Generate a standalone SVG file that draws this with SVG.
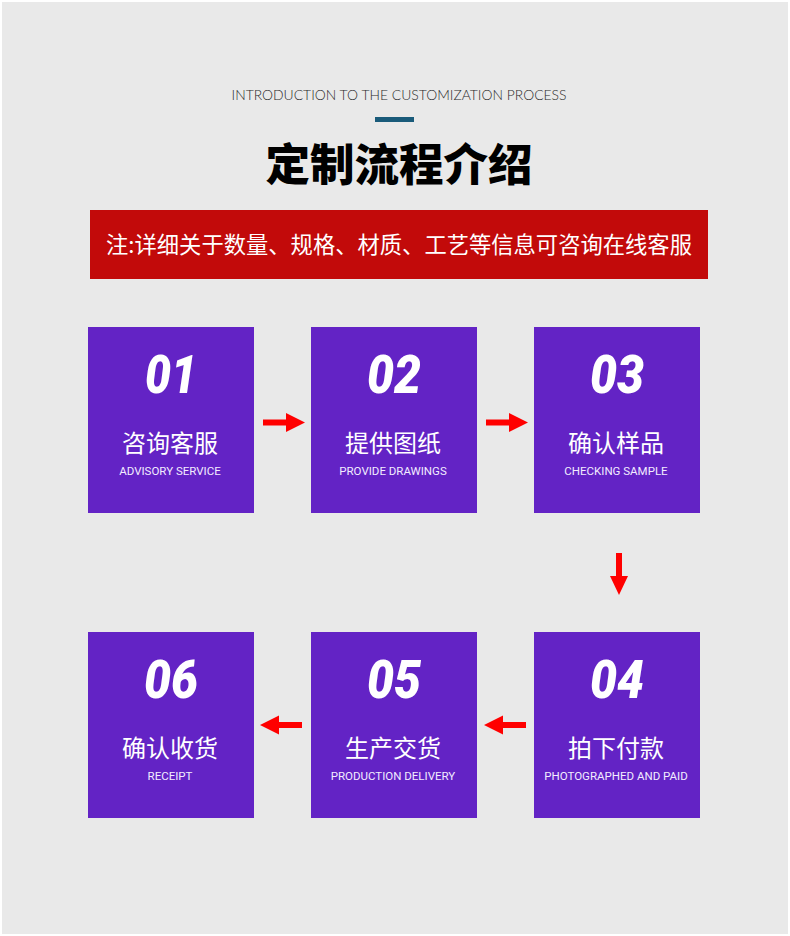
<svg xmlns="http://www.w3.org/2000/svg" width="790" height="936" viewBox="0 0 790 936">
<style>
.box{fill:#6323c5}
.num{font-family:Roboto,"Liberation Sans",sans-serif;font-weight:900;font-style:italic;font-size:54px;fill:#fff;text-anchor:middle}
.cn{font-family:"Noto Sans CJK SC",sans-serif;font-size:24px;fill:#fff;text-anchor:middle}
.en{font-family:Roboto,"Liberation Sans",sans-serif;font-size:11.5px;fill:#f2ecff;text-anchor:middle}
.arr{fill:#ff0000}
</style>
<rect x="0" y="0" width="790" height="936" fill="#ffffff"/>
<rect x="2" y="2" width="786" height="932" fill="#e9e9e9"/>
<text x="399" y="100" font-family="Lato,'Liberation Sans',sans-serif" font-weight="300" font-size="13.9" fill="#2a2a2a" text-anchor="middle">INTRODUCTION TO THE CUSTOMIZATION PROCESS</text>
<rect x="375" y="117" width="39" height="5" fill="#1a5b7a"/>
<text x="399" y="181" font-family="'Noto Sans CJK SC',sans-serif" font-weight="900" font-size="44.5" fill="#000" text-anchor="middle">定制流程介绍</text>
<g id="banner">
<rect x="90" y="210" width="618" height="69" fill="#c20a0a"/>
<text x="399" y="253" font-family="'Noto Sans CJK SC',sans-serif" font-size="22.3" fill="#fff" text-anchor="middle">注:详细关于数量、规格、材质、工艺等信息可咨询在线客服</text>
</g>
<g id="step1"><rect class="box" x="88" y="327" width="166" height="186"/><text class="num" x="171" y="393" textLength="52" lengthAdjust="spacingAndGlyphs">01</text><text class="cn" x="170" y="452">咨询客服</text><text class="en" x="170" y="475">ADVISORY SERVICE</text></g>
<g id="step2"><rect class="box" x="311" y="327" width="166" height="186"/><text class="num" x="394" y="393" textLength="54" lengthAdjust="spacingAndGlyphs">02</text><text class="cn" x="393" y="452">提供图纸</text><text class="en" x="393" y="475">PROVIDE DRAWINGS</text></g>
<g id="step3"><rect class="box" x="534" y="327" width="166" height="186"/><text class="num" x="617" y="393" textLength="54" lengthAdjust="spacingAndGlyphs">03</text><text class="cn" x="616" y="452">确认样品</text><text class="en" x="616" y="475">CHECKING SAMPLE</text></g>
<g id="step4"><rect class="box" x="534" y="632" width="166" height="186"/><text class="num" x="617" y="698" textLength="54" lengthAdjust="spacingAndGlyphs">04</text><text class="cn" x="616" y="757">拍下付款</text><text class="en" x="616" y="780">PHOTOGRAPHED AND PAID</text></g>
<g id="step5"><rect class="box" x="311" y="632" width="166" height="186"/><text class="num" x="394" y="698" textLength="54" lengthAdjust="spacingAndGlyphs">05</text><text class="cn" x="393" y="757">生产交货</text><text class="en" x="393" y="780">PRODUCTION DELIVERY</text></g>
<g id="step6"><rect class="box" x="88" y="632" width="166" height="186"/><text class="num" x="171" y="698" textLength="54" lengthAdjust="spacingAndGlyphs">06</text><text class="cn" x="170" y="757">确认收货</text><text class="en" x="170" y="780">RECEIPT</text></g>
<g id="connectors">
<path class="arr" d="M263 419.5H286V413L305 422.5L286 432V425.5H263Z"/>
<path class="arr" d="M486 419.5H509V413L528 422.5L509 432V425.5H486Z"/>
<path class="arr" d="M616 553V576H610L619 595L628 576H622V553Z"/>
<path class="arr" d="M526 722H503V715.5L484 725L503 734.5V728H526Z"/>
<path class="arr" d="M302 722H279V715.5L260 725L279 734.5V728H302Z"/>
</g>
</svg>
